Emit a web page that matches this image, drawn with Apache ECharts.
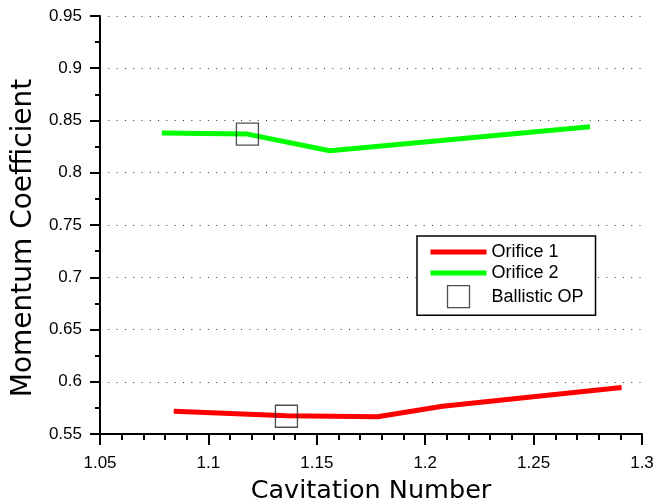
<!DOCTYPE html>
<html>
<head>
<meta charset="utf-8">
<script src="https://cdn.jsdelivr.net/npm/echarts@6/dist/echarts.min.js"></script>
<style>html,body{margin:0;padding:0;background:#fff;}#c{width:655px;height:500px;}</style>
</head>
<body>
<div id="c"></div>
<script>
var orifice1X = [1.084, 1.136, 1.178, 1.208, 1.2906];
var orifice1Y = [0.5717, 0.5675, 0.5665, 0.5765, 0.5946];
var orifice2X = [1.0785, 1.118, 1.156, 1.276];
var orifice2Y = [0.838, 0.837, 0.821, 0.844];
var ballisticX = [1.118, 1.136];
var ballisticY = [0.837, 0.567];
var xTicks = [1.05, 1.1, 1.15, 1.2, 1.25, 1.3];
var yTicks = [0.55, 0.6, 0.65, 0.7, 0.75, 0.8, 0.85, 0.9, 0.95];

function pairs(xs, ys) { return xs.map(function (x, i) { return [x, ys[i]]; }); }

var chart = echarts.init(document.getElementById('c'), null, {renderer: 'canvas'});
var tickFont = 'Liberation Sans, Arial, sans-serif';
var titleFont = 'DejaVu Sans, sans-serif';
chart.setOption({
  animation: false,
  backgroundColor: '#fff',
  grid: {left: 100, right: 13, top: 16, bottom: 66, containLabel: false, outerBoundsMode: 'none'},
  xAxis: {
    type: 'value', min: xTicks[0], max: xTicks[xTicks.length - 1], interval: 0.05,
    name: 'Cavitation Number', nameLocation: 'middle', nameGap: 44,
    nameTextStyle: {fontFamily: titleFont, fontSize: 25.5, color: '#000'},
    axisLine: {show: true, lineStyle: {color: '#000', width: 2}},
    axisTick: {show: true, inside: false, length: 11, lineStyle: {color: '#000', width: 2}},
    minorTick: {show: true, splitNumber: 5, length: 6, lineStyle: {color: '#000', width: 2}},
    axisLabel: {fontFamily: tickFont, fontSize: 17, color: '#000', margin: 21,
      formatter: function (v) { return String(+v.toFixed(2)); }},
    splitLine: {show: false}
  },
  yAxis: {
    type: 'value', min: yTicks[0], max: yTicks[yTicks.length - 1], interval: 0.05,
    name: 'Momentum Coefficient', nameLocation: 'middle', nameGap: 60,
    nameTextStyle: {fontFamily: titleFont, fontSize: 28, color: '#000', padding: [0, 26, 0, 0]},
    axisLine: {show: true, lineStyle: {color: '#000', width: 2}},
    axisTick: {show: true, inside: false, length: 10, lineStyle: {color: '#000', width: 2}},
    minorTick: {show: true, splitNumber: 2, length: 5, lineStyle: {color: '#000', width: 2}},
    axisLabel: {fontFamily: tickFont, fontSize: 17, color: '#000', margin: 18,
      formatter: function (v) { return String(+v.toFixed(2)); }},
    splitLine: {show: true, lineStyle: {color: '#333', width: 1, type: [1, 7.3]},
      showMinLine: false}
  },
  legend: {
    orient: 'vertical', left: 417, top: 236,
    padding: [7, 12, 7, 11], itemGap: 3,
    itemWidth: 56, itemHeight: 22, symbolKeepAspect: true,
    borderColor: '#000', borderWidth: 1.5, borderRadius: 0,
    backgroundColor: '#fff',
    textStyle: {fontFamily: tickFont, fontSize: 18, color: '#000'},
    data: [
      {name: 'Orifice 1', itemStyle: {opacity: 0}, lineStyle: {width: 5, color: '#ff0000'}},
      {name: 'Orifice 2', itemStyle: {opacity: 0}, lineStyle: {width: 5, color: '#00ff00'}},
      {name: 'Ballistic OP', icon: 'path://M0,0h10v10h-10z',
        itemStyle: {color: 'rgba(0,0,0,0)', borderColor: '#222', borderWidth: 1.3}}
    ]
  },
  series: [
    {name: 'Orifice 1', type: 'line', data: pairs(orifice1X, orifice1Y), showSymbol: false, symbol: 'none',
      lineStyle: {color: '#ff0000', width: 5}, itemStyle: {color: '#ff0000'}, z: 2},
    {name: 'Orifice 2', type: 'line', data: pairs(orifice2X, orifice2Y), showSymbol: false, symbol: 'none',
      lineStyle: {color: '#00ff00', width: 5}, itemStyle: {color: '#00ff00'}, z: 2},
    {name: 'Ballistic OP', type: 'scatter', data: pairs(ballisticX, ballisticY), symbol: 'rect', symbolSize: 22,
      itemStyle: {color: 'rgba(0,0,0,0)', borderColor: '#222', borderWidth: 1.3}, z: 3}
  ]
});
</script>
</body>
</html>
